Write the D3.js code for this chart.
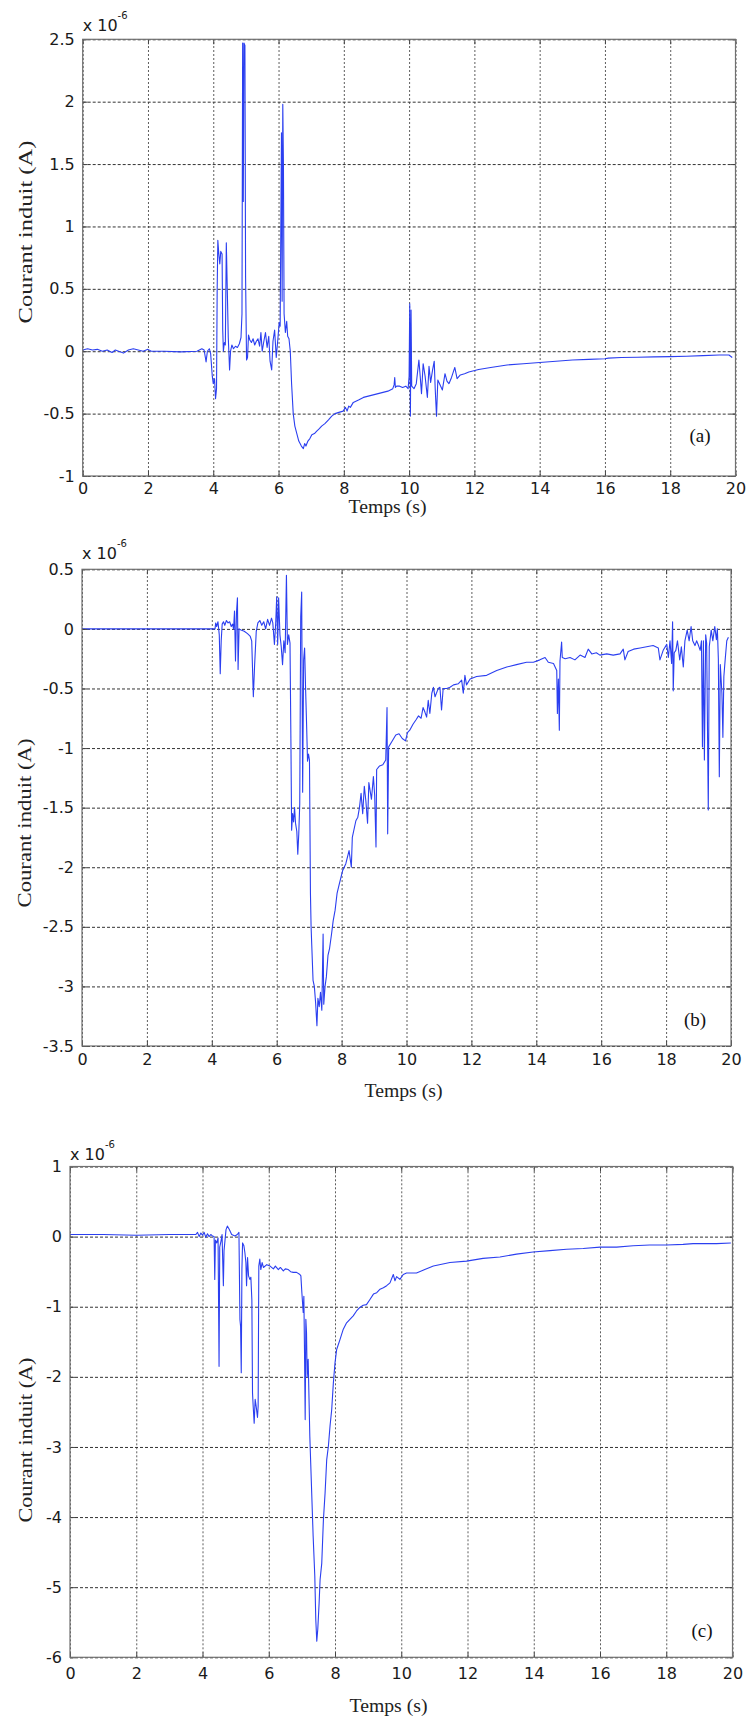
<!DOCTYPE html>
<html><head><meta charset="utf-8">
<script src="https://cdn.jsdelivr.net/npm/d3@7"></script>
<style>body{margin:0;background:#fff}svg{display:block}</style>
</head><body>
<svg id="fig" width="748" height="1720"></svg>
<script>
// ---------- data (current in units of 1e-6 A, time in s) ----------
const xTicks = [0,2,4,6,8,10,12,14,16,18,20];
const yTicksA = [-1,-0.5,0,0.5,1,1.5,2,2.5];
const yTicksB = [-3.5,-3,-2.5,-2,-1.5,-1,-0.5,0,0.5];
const yTicksC = [-6,-5,-4,-3,-2,-1,0,1];
const panelLabels = ["(a)","(b)","(c)"];
const xLabel = "Temps (s)";
const yLabel = "Courant induit (A)";

const tA = [0,0.15,0.3,0.45,0.6,0.75,0.9,1.0,1.1,1.25,1.4,1.55,1.7,1.85,2.0,2.1,2.5,3.0,3.5,3.65,3.72,3.78,3.82,3.88,3.92,3.97,4.0,4.04,4.07,4.1,4.12,4.14,4.17,4.2,4.23,4.27,4.29,4.31,4.34,4.37,4.4,4.43,4.46,4.5,4.53,4.57,4.62,4.68,4.74,4.8,4.85,4.88,4.9,4.92,4.94,4.97,4.99,5.02,5.05,5.08,5.12,5.17,5.22,5.27,5.32,5.37,5.42,5.46,5.5,5.55,5.6,5.65,5.7,5.74,5.79,5.83,5.88,5.93,5.98,6.02,6.05,6.07,6.09,6.11,6.13,6.15,6.17,6.21,6.25,6.28,6.32,6.36,6.4,6.45,6.5,6.56,6.62,6.7,6.76,6.8,6.84,6.9,6.96,7.02,7.1,7.17,7.25,7.32,7.42,7.53,7.63,7.73,7.85,7.98,8.05,8.1,8.15,8.2,8.29,8.45,8.6,8.75,8.9,9.05,9.2,9.35,9.5,9.54,9.56,9.58,9.62,9.71,9.8,9.9,9.97,10.0,10.02,10.04,10.06,10.08,10.15,10.22,10.3,10.34,10.38,10.43,10.49,10.56,10.61,10.66,10.72,10.77,10.8,10.84,10.88,10.95,11.02,11.1,11.16,11.22,11.3,11.35,11.4,11.47,11.57,11.7,11.83,12.13,12.5,13.0,13.5,14.0,14.5,15.0,15.5,16.0,16.1,16.5,17.0,17.5,18.0,18.5,19.0,19.5,19.8,19.9];
const iA = [0.01,0.02,0.01,0.015,0.0,0.01,-0.01,0.01,0.0,-0.015,0.01,0.02,0.01,0.0,0.015,0.0,0.0,-0.005,0.0,0.02,0.01,-0.085,0.0,0.02,-0.02,-0.2,-0.26,-0.22,-0.38,-0.3,0.5,0.89,0.78,0.7,0.8,0.78,0.17,0.0,0.07,0.05,0.87,0.49,0.11,-0.15,0.0,0.05,0.02,0.04,0.03,0.06,0.11,0.3,2.47,1.2,2.47,2.45,0.6,-0.07,-0.05,0.13,0.09,0.07,0.1,0.05,0.08,0.1,0.04,0.15,0.0,0.08,0.15,0.03,0.12,-0.08,-0.15,0.08,0.17,-0.05,0.1,0.23,0.2,1.0,1.75,0.4,1.98,1.5,0.3,0.15,0.24,0.12,0.1,0.0,-0.26,-0.5,-0.6,-0.66,-0.72,-0.76,-0.78,-0.74,-0.76,-0.72,-0.7,-0.67,-0.66,-0.64,-0.62,-0.6,-0.58,-0.55,-0.52,-0.5,-0.49,-0.48,-0.45,-0.48,-0.44,-0.45,-0.41,-0.39,-0.37,-0.36,-0.35,-0.34,-0.33,-0.32,-0.3,-0.27,-0.21,-0.29,-0.28,-0.28,-0.29,-0.28,-0.3,-0.2,0.38,-0.52,0.33,-0.28,-0.3,-0.26,-0.07,-0.2,-0.34,-0.1,-0.2,-0.37,-0.12,-0.25,-0.15,-0.08,-0.3,-0.52,-0.23,-0.27,-0.31,-0.18,-0.24,-0.26,-0.21,-0.17,-0.13,-0.22,-0.19,-0.18,-0.166,-0.147,-0.13,-0.11,-0.1,-0.09,-0.08,-0.07,-0.065,-0.06,-0.055,-0.05,-0.048,-0.045,-0.043,-0.04,-0.035,-0.03,-0.03,-0.05];

const tB = [0,4.1,4.12,4.15,4.19,4.23,4.26,4.29,4.32,4.36,4.4,4.45,4.5,4.55,4.6,4.64,4.67,4.7,4.73,4.76,4.79,4.81,4.84,4.9,5.0,5.1,5.18,5.23,5.28,5.32,5.37,5.42,5.48,5.54,5.6,5.66,5.72,5.78,5.84,5.88,5.93,5.97,6.0,6.03,6.06,6.1,6.14,6.18,6.22,6.26,6.3,6.33,6.37,6.41,6.44,6.46,6.49,6.52,6.55,6.58,6.62,6.65,6.68,6.71,6.74,6.77,6.8,6.83,6.86,6.89,6.92,6.95,6.98,7.01,7.04,7.06,7.08,7.12,7.16,7.2,7.24,7.27,7.31,7.35,7.39,7.43,7.45,7.49,7.53,7.58,7.63,7.69,7.74,7.8,7.86,7.93,8.03,8.13,8.23,8.3,8.33,8.44,8.5,8.55,8.6,8.65,8.7,8.75,8.8,8.84,8.92,8.98,9.02,9.06,9.08,9.17,9.27,9.36,9.4,9.42,9.45,9.56,9.67,9.77,9.87,9.97,10.03,10.1,10.2,10.3,10.37,10.45,10.51,10.57,10.62,10.67,10.72,10.78,10.83,10.88,10.95,10.98,11.03,11.08,11.13,11.24,11.34,11.45,11.6,11.7,11.75,11.8,11.85,11.96,12.16,12.47,12.78,13.09,13.39,13.7,13.91,14.11,14.27,14.37,14.53,14.63,14.65,14.68,14.71,14.73,14.78,14.8,14.89,15.04,15.19,15.35,15.5,15.6,15.71,15.85,15.96,16.17,16.37,16.58,16.68,16.73,16.83,17.0,17.2,17.4,17.6,17.76,17.81,17.91,18.02,18.07,18.12,18.17,18.2,18.22,18.25,18.3,18.35,18.42,18.47,18.53,18.58,18.65,18.71,18.77,18.82,18.89,18.94,19.0,19.05,19.09,19.12,19.15,19.18,19.22,19.25,19.3,19.33,19.39,19.44,19.5,19.55,19.58,19.61,19.64,19.67,19.72,19.75,19.78,19.82,19.87,19.92];
const iB = [0,0,0.05,0.02,0.06,-0.05,-0.376,-0.1,0.04,0.06,0.03,0.07,0.05,0.06,0.02,0.04,0.0,0.15,-0.27,0.13,0.26,-0.34,0.0,-0.01,-0.02,-0.04,-0.06,-0.1,-0.57,-0.3,-0.02,0.05,0.07,0.03,0.06,0.0,0.08,0.03,0.09,0.05,-0.13,0.05,0.27,-0.13,0.26,-0.05,-0.15,-0.3,-0.1,-0.2,0.45,-0.13,-0.05,-0.12,-1.0,-1.69,-1.55,-1.62,-1.5,-1.63,-1.7,-1.89,-1.72,-1.47,0.1,0.31,-1.37,-0.26,-0.16,-0.5,-0.79,-1.11,-1.05,-1.1,-2.22,-2.5,-2.65,-2.95,-3.0,-3.14,-3.33,-3.1,-3.17,-3.05,-3.2,-2.56,-3.15,-3.0,-2.92,-2.74,-2.68,-2.56,-2.45,-2.36,-2.22,-2.14,-2.03,-1.97,-1.86,-2.0,-1.75,-1.61,-1.58,-1.5,-1.38,-1.55,-1.32,-1.45,-1.63,-1.29,-1.43,-1.24,-1.4,-1.83,-1.18,-1.15,-1.14,-1.1,-0.66,-1.72,-0.99,-0.94,-0.89,-0.88,-0.92,-0.94,-0.87,-0.85,-0.8,-0.76,-0.73,-0.75,-0.66,-0.7,-0.74,-0.6,-0.71,-0.54,-0.49,-0.57,-0.52,-0.5,-0.49,-0.68,-0.5,-0.5,-0.49,-0.47,-0.46,-0.43,-0.54,-0.39,-0.47,-0.42,-0.4,-0.39,-0.35,-0.32,-0.3,-0.28,-0.28,-0.26,-0.24,-0.28,-0.29,-0.35,-0.71,-0.42,-0.85,-0.27,-0.11,-0.24,-0.25,-0.24,-0.26,-0.22,-0.24,-0.17,-0.21,-0.2,-0.22,-0.21,-0.22,-0.21,-0.17,-0.26,-0.19,-0.17,-0.16,-0.15,-0.14,-0.16,-0.26,-0.18,-0.13,-0.24,-0.1,-0.29,0.06,-0.52,-0.2,-0.18,-0.1,-0.26,-0.15,-0.32,-0.1,-0.01,-0.1,0.02,-0.1,-0.14,-0.1,-0.14,-0.18,-0.1,-0.99,-0.1,-1.1,-0.05,-0.12,-1.52,-0.15,-0.01,-0.1,0.02,-0.09,0.0,-0.25,-1.24,-0.3,-0.54,-0.91,-0.4,-0.26,-0.1,-0.07];

const tC = [0,1,2,3,3.8,3.85,3.9,3.95,4.0,4.05,4.1,4.15,4.2,4.25,4.3,4.35,4.37,4.39,4.43,4.47,4.5,4.52,4.56,4.59,4.63,4.65,4.68,4.71,4.75,4.81,4.88,4.98,5.05,5.1,5.13,5.15,5.17,5.19,5.21,5.25,5.28,5.31,5.33,5.36,5.39,5.43,5.46,5.49,5.51,5.53,5.56,5.59,5.62,5.66,5.68,5.7,5.73,5.76,5.8,5.84,5.94,6.04,6.14,6.2,6.29,6.35,6.44,6.5,6.59,6.66,6.74,6.84,6.94,6.97,7.0,7.04,7.06,7.08,7.1,7.12,7.14,7.16,7.19,7.24,7.29,7.34,7.39,7.42,7.45,7.48,7.52,7.55,7.6,7.65,7.7,7.75,7.8,7.85,7.9,7.95,8.0,8.05,8.15,8.25,8.35,8.45,8.55,8.65,8.75,8.85,8.95,9.05,9.16,9.26,9.36,9.46,9.56,9.66,9.76,9.81,9.86,9.96,10.06,10.16,10.46,10.71,10.97,11.47,11.97,12.47,12.98,13.48,13.98,14.49,14.99,15.49,16.0,16.5,17.0,17.5,18.01,18.51,18.81,19.52,19.95];
const iC = [0.03,0.03,0.02,0.03,0.03,0.06,0.0,0.05,0.02,0.06,-0.01,0.04,0.0,0.03,0.01,0.0,-0.61,-0.05,-0.09,-0.02,-1.85,-0.15,-0.06,0.03,-0.7,-0.2,-0.05,0.1,0.15,0.1,0.03,0.01,0.03,0.06,-1.18,-1.28,-1.94,-0.47,-0.09,-0.13,-0.23,-0.37,-0.7,-0.3,-0.56,-0.61,-0.58,-0.9,-2.23,-2.42,-2.66,-2.32,-2.42,-2.58,-2.42,-0.42,-0.32,-0.47,-0.37,-0.44,-0.4,-0.42,-0.46,-0.42,-0.47,-0.44,-0.49,-0.46,-0.47,-0.5,-0.51,-0.51,-0.54,-0.56,-0.8,-1.08,-0.85,-1.66,-2.61,-1.18,-1.37,-2.0,-1.75,-2.85,-3.56,-4.27,-4.84,-5.46,-5.77,-5.6,-5.23,-4.89,-4.66,-4.04,-3.66,-3.18,-2.99,-2.7,-2.47,-2.09,-1.8,-1.61,-1.47,-1.32,-1.23,-1.18,-1.13,-1.06,-1.01,-0.98,-0.97,-0.9,-0.82,-0.8,-0.75,-0.73,-0.7,-0.66,-0.54,-0.63,-0.57,-0.61,-0.54,-0.52,-0.52,-0.47,-0.42,-0.37,-0.35,-0.31,-0.29,-0.25,-0.22,-0.2,-0.18,-0.17,-0.15,-0.15,-0.13,-0.12,-0.12,-0.11,-0.1,-0.1,-0.09];

// ---------- layout ----------
const panels = [
  {t:tA, v:iA, yDom:[-1,2.5], yTicks:yTicksA, label:panelLabels[0],
   l:82.7, r:735.5, top:39.3, b:476, xPad:6.6, expY:31,
   yl:{x:32, cy:232, len:183}, xl:{cx:387.5, y:513}, pl:{x:700, y:442}},
  {t:tB, v:iB, yDom:[-3.5,0.5], yTicks:yTicksB, label:panelLabels[1],
   l:82, r:731, top:569.3, b:1046, xPad:8, expY:559,
   yl:{x:31, cy:823, len:169}, xl:{cx:403.5, y:1097}, pl:{x:695, y:1026}},
  {t:tC, v:iC, yDom:[-6,1], yTicks:yTicksC, label:panelLabels[2],
   l:70, r:732.5, top:1166.5, b:1657.3, xPad:10, expY:1160,
   yl:{x:32, cy:1440, len:165}, xl:{cx:388.5, y:1712}, pl:{x:702, y:1637}}
];

const svg = d3.select("#fig");
const tickFont = "'DejaVu Sans', Arial, sans-serif";
const serif = "'Liberation Serif', 'Times New Roman', serif";
const fmt = d => String(d);

panels.forEach(p => {
  const x = d3.scaleLinear().domain([0,20]).range([p.l, p.r]);
  const y = d3.scaleLinear().domain(p.yDom).range([p.b, p.top]);
  const W = p.r - p.l, H = p.b - p.top;
  const g = svg.append("g");

  // grid
  const gx = g.append("g").attr("transform", `translate(0,${p.b})`)
    .call(d3.axisBottom(x).tickValues(xTicks).tickSize(-H).tickFormat(""));
  gx.select(".domain").remove();
  gx.selectAll("line").attr("stroke","#5e5e5e").attr("stroke-dasharray","2,2").attr("stroke-width",1);
  const gy = g.append("g").attr("transform", `translate(${p.l},0)`)
    .call(d3.axisLeft(y).tickValues(p.yTicks).tickSize(-W).tickFormat(""));
  gy.select(".domain").remove();
  gy.selectAll("line").attr("stroke","#333").attr("stroke-dasharray","3,2").attr("stroke-width",1);

  // data line
  const idx = d3.range(p.t.length);
  const line = d3.line().x(i => x(p.t[i])).y(i => y(p.v[i]));
  g.append("path").datum(idx).attr("d", line)
    .attr("fill","none").attr("stroke","#2b3ff0").attr("stroke-width",1.1)
    .attr("stroke-linejoin","round");

  // axes with inward ticks
  const ax = g.append("g").attr("transform", `translate(0,${p.b})`)
    .call(d3.axisBottom(x).tickValues(xTicks).tickSizeInner(-5).tickSizeOuter(0)
      .tickPadding(p.xPad).tickFormat(fmt));
  const ay = g.append("g").attr("transform", `translate(${p.l},0)`)
    .call(d3.axisLeft(y).tickValues(p.yTicks).tickSizeInner(-5).tickSizeOuter(0)
      .tickPadding(8).tickFormat(fmt));
  const at = g.append("g").attr("transform", `translate(0,${p.top})`)
    .call(d3.axisTop(x).tickValues(xTicks).tickSizeInner(-5).tickSizeOuter(0).tickFormat(""));
  const ar = g.append("g").attr("transform", `translate(${p.r},0)`)
    .call(d3.axisRight(y).tickValues(p.yTicks).tickSizeInner(-5).tickSizeOuter(0).tickFormat(""));
  [ax, ay, at, ar].forEach(a => {
    a.select(".domain").remove();
    a.selectAll("line").attr("stroke","#444");
    a.selectAll("text").attr("font-family", tickFont).attr("font-size", 16).attr("fill","#1a1a1a");
  });

  // box
  g.append("rect").attr("x",p.l).attr("y",p.top).attr("width",W).attr("height",H)
    .attr("fill","none").attr("stroke","#707070").attr("stroke-width",1.2);

  // exponent
  const e = g.append("text").attr("x", p.l).attr("y", p.expY)
    .attr("font-family", tickFont).attr("font-size", 16).attr("fill","#1a1a1a");
  e.append("tspan").text("x 10");
  e.append("tspan").attr("dy",-12).attr("font-size",10).text("-6");

  // axis labels
  g.append("text").attr("transform", `translate(${p.yl.x},${p.yl.cy}) rotate(-90)`)
    .attr("text-anchor","middle").attr("font-family", serif).attr("font-size",18)
    .attr("fill","#222").attr("textLength", p.yl.len).attr("lengthAdjust","spacingAndGlyphs")
    .text(yLabel);
  g.append("text").attr("x", p.xl.cx).attr("y", p.xl.y)
    .attr("text-anchor","middle").attr("font-family", serif).attr("font-size",18)
    .attr("fill","#222").attr("textLength", 78).attr("lengthAdjust","spacingAndGlyphs")
    .text(xLabel);

  // panel label
  g.append("text").attr("x", p.pl.x).attr("y", p.pl.y).attr("text-anchor","middle")
    .attr("font-family", serif).attr("font-size",19).attr("fill","#111").text(p.label);
});
</script>
</body></html>
